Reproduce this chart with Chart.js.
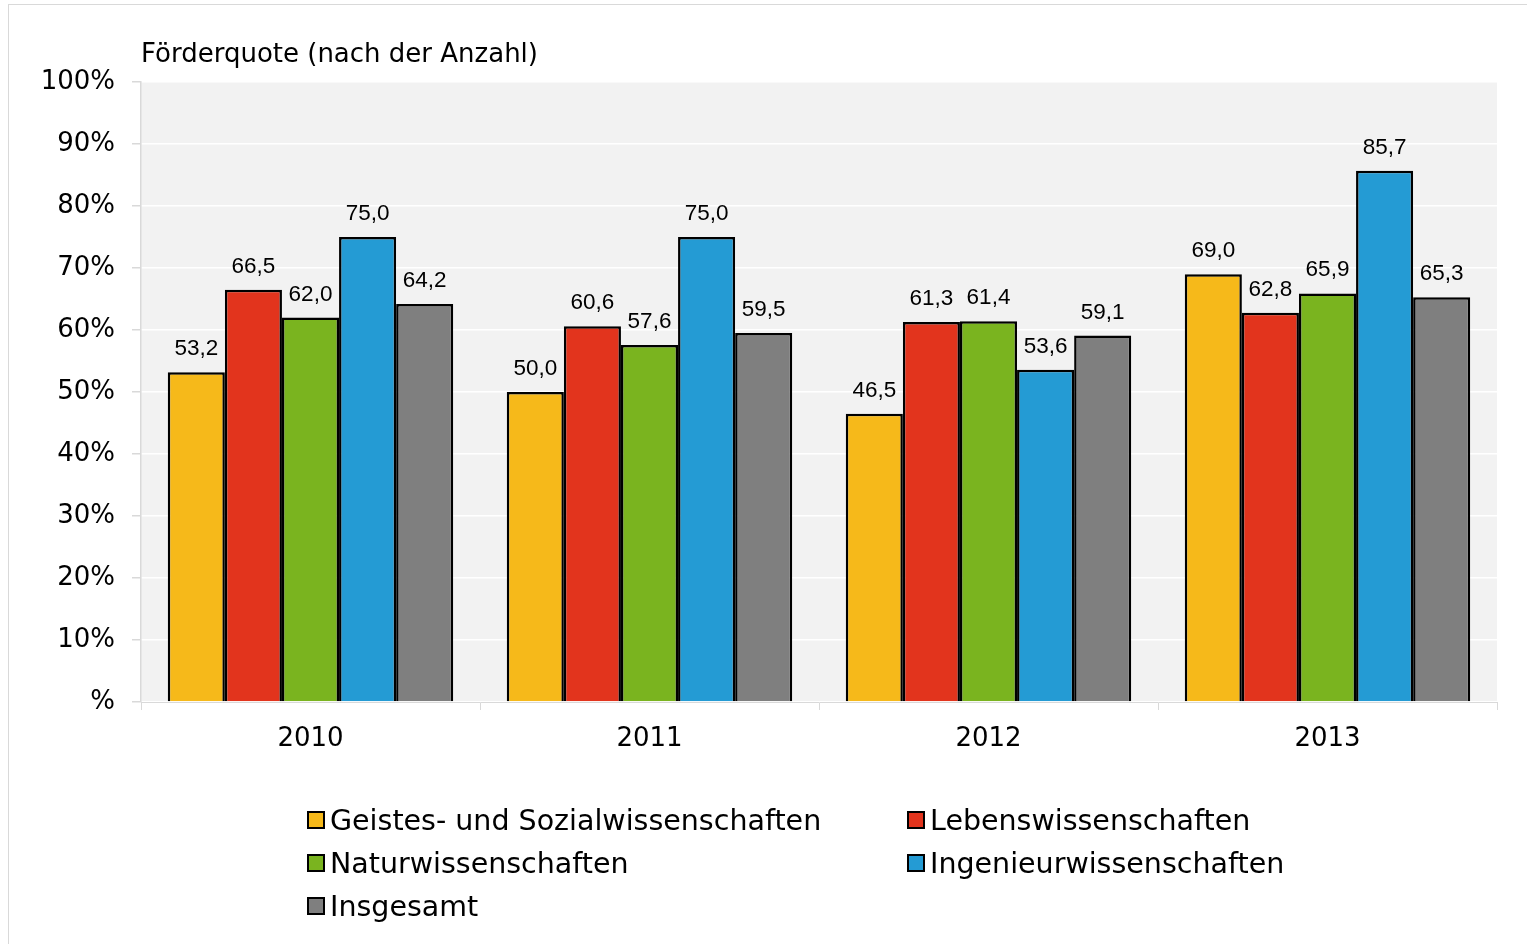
<!DOCTYPE html>
<html>
<head>
<meta charset="utf-8">
<script src="https://cdn.jsdelivr.net/npm/chart.js@4"></script>
<style>
  html, body { margin: 0; padding: 0; background: #fff; }
  #wrap { position: relative; width: 1527px; height: 944px; overflow: hidden; }
  #frame { position: absolute; left: 8px; top: 4px; width: 1540px; height: 960px; border: 1px solid #d9d9d9; box-sizing: border-box; }
  #chart { position: absolute; left: 0; top: 0; }
  #legend { position: absolute; left: 0; top: 0; width: 1527px; height: 944px; pointer-events: none;
            font-family: "DejaVu Sans", Verdana, sans-serif; font-size: 28.5px; color: #000; }
  .lg-item { position: absolute; display: flex; align-items: center; height: 40px; white-space: pre; }
  .lg-box { width: 18px; height: 18px; border: 2.5px solid #000; margin-right: 5px; box-sizing: border-box; }
</style>
</head>
<body>
<div id="wrap">
  <div id="frame"></div>
  <canvas id="chart" width="1527" height="944"></canvas>
  <div id="legend"></div>
</div>
<script>
// ---------------------------------------------------------------------------
// Data
// ---------------------------------------------------------------------------
const years = ["2010", "2011", "2012", "2013"];
const seriesNames = [
    "Geistes- und Sozialwissenschaften",
    "Lebenswissenschaften",
    "Naturwissenschaften",
    "Ingenieurwissenschaften",
    "Insgesamt",
];
const geistesSozial = [53.2, 50.0, 46.5, 69.0];
const leben = [66.5, 60.6, 61.3, 62.8];
const natur = [62.0, 57.6, 61.4, 65.9];
const ingenieur = [75.0, 75.0, 53.6, 85.7];
const insgesamt = [64.2, 59.5, 59.1, 65.3];
const yTicks = [0, 10, 20, 30, 40, 50, 60, 70, 80, 90, 100];

const colors = ["#f6b91a", "#e2341d", "#7ab41f", "#249bd4", "#7f7f7f"];
const AXIS_FONT = "'DejaVu Sans', Verdana, sans-serif";
const LABEL_FONT = "'Liberation Sans', Arial, sans-serif";

// ---------------------------------------------------------------------------
// Plugins: plot background, title, value labels
// ---------------------------------------------------------------------------
const plotBg = {
    id: "plotBg",
    beforeDraw(chart) {
        const { ctx, chartArea: a } = chart;
        ctx.save();
        ctx.fillStyle = "#f2f2f2";
        ctx.fillRect(a.left, a.top, a.right - a.left, a.bottom - a.top);
        ctx.restore();
    },
};

const titleText = {
    id: "titleText",
    afterDraw(chart) {
        const { ctx, chartArea: a } = chart;
        ctx.save();
        ctx.font = "26px " + AXIS_FONT;
        ctx.fillStyle = "#000";
        ctx.textAlign = "left";
        ctx.textBaseline = "alphabetic";
        ctx.fillText("Förderquote (nach der Anzahl)", a.left, 62);
        ctx.restore();
    },
};

const valueLabels = {
    id: "valueLabels",
    afterDatasetsDraw(chart) {
        const { ctx } = chart;
        ctx.save();
        ctx.font = "22.5px " + LABEL_FONT;
        ctx.fillStyle = "#000";
        ctx.textAlign = "center";
        ctx.textBaseline = "alphabetic";
        chart.data.datasets.forEach((ds, i) => {
            chart.getDatasetMeta(i).data.forEach((bar, j) => {
                const txt = ds.data[j].toFixed(1).replace(".", ",");
                ctx.fillText(txt, bar.x, bar.y - 17);
            });
        });
        ctx.restore();
    },
};

// ---------------------------------------------------------------------------
// Chart
// ---------------------------------------------------------------------------
const seriesData = [geistesSozial, leben, natur, ingenieur, insgesamt];

new Chart(document.getElementById("chart"), {
    type: "bar",
    data: {
        labels: years,
        datasets: seriesData.map((d, i) => ({
            label: seriesNames[i],
            data: d,
            backgroundColor: colors[i],
            borderColor: "#000",
            borderWidth: 2.5,
            barPercentage: 1.0,
            categoryPercentage: 0.842,
        })),
    },
    options: {
        responsive: false,
        animation: false,
        layout: { padding: { left: 0, top: 82, right: 30, bottom: 0 } },
        plugins: {
            legend: { display: false },
            tooltip: { enabled: false },
        },
        scales: {
            x: {
                grid: {
                    display: true,
                    offset: true,
                    drawOnChartArea: false,
                    tickLength: 8,
                    color: "#d9d9d9",
                    tickColor: "#d9d9d9",
                },
                border: { color: "#d9d9d9", width: 1 },
                ticks: {
                    font: { family: AXIS_FONT, size: 26 },
                    color: "#000",
                    padding: 14,
                },
                afterFit(scale) { scale.height = 944 - 702; },
            },
            y: {
                min: 0,
                max: 100,
                afterBuildTicks(scale) { scale.ticks = yTicks.map(v => ({ value: v })); },
                grid: {
                    color: "#ffffff",
                    lineWidth: 1.5,
                    tickLength: 9,
                    tickColor: "#d9d9d9",
                },
                border: { color: "#d9d9d9", width: 1.5 },
                ticks: {
                    font: { family: AXIS_FONT, size: 26 },
                    color: "#000",
                    padding: 17,
                    callback: v => (v === 0 ? "%" : v + "%"),
                },
                afterFit(scale) { scale.width = 141; },
            },
        },
    },
    plugins: [plotBg, titleText, valueLabels],
});

// ---------------------------------------------------------------------------
// Legend (two columns, left aligned)
// ---------------------------------------------------------------------------
(function buildLegend() {
    const el = document.getElementById("legend");
    const colX = [307, 907];
    const rowY = [820, 863, 906];
    let html = "";
    seriesNames.forEach((name, i) => {
        const x = colX[i % 2];
        const y = rowY[Math.floor(i / 2)] - 20;
        html += `<div class="lg-item" style="left:${x}px;top:${y}px">` +
            `<span class="lg-box" style="background:${colors[i]}"></span>${name}</div>`;
    });
    el.innerHTML = html;
})();
</script>
</body>
</html>
